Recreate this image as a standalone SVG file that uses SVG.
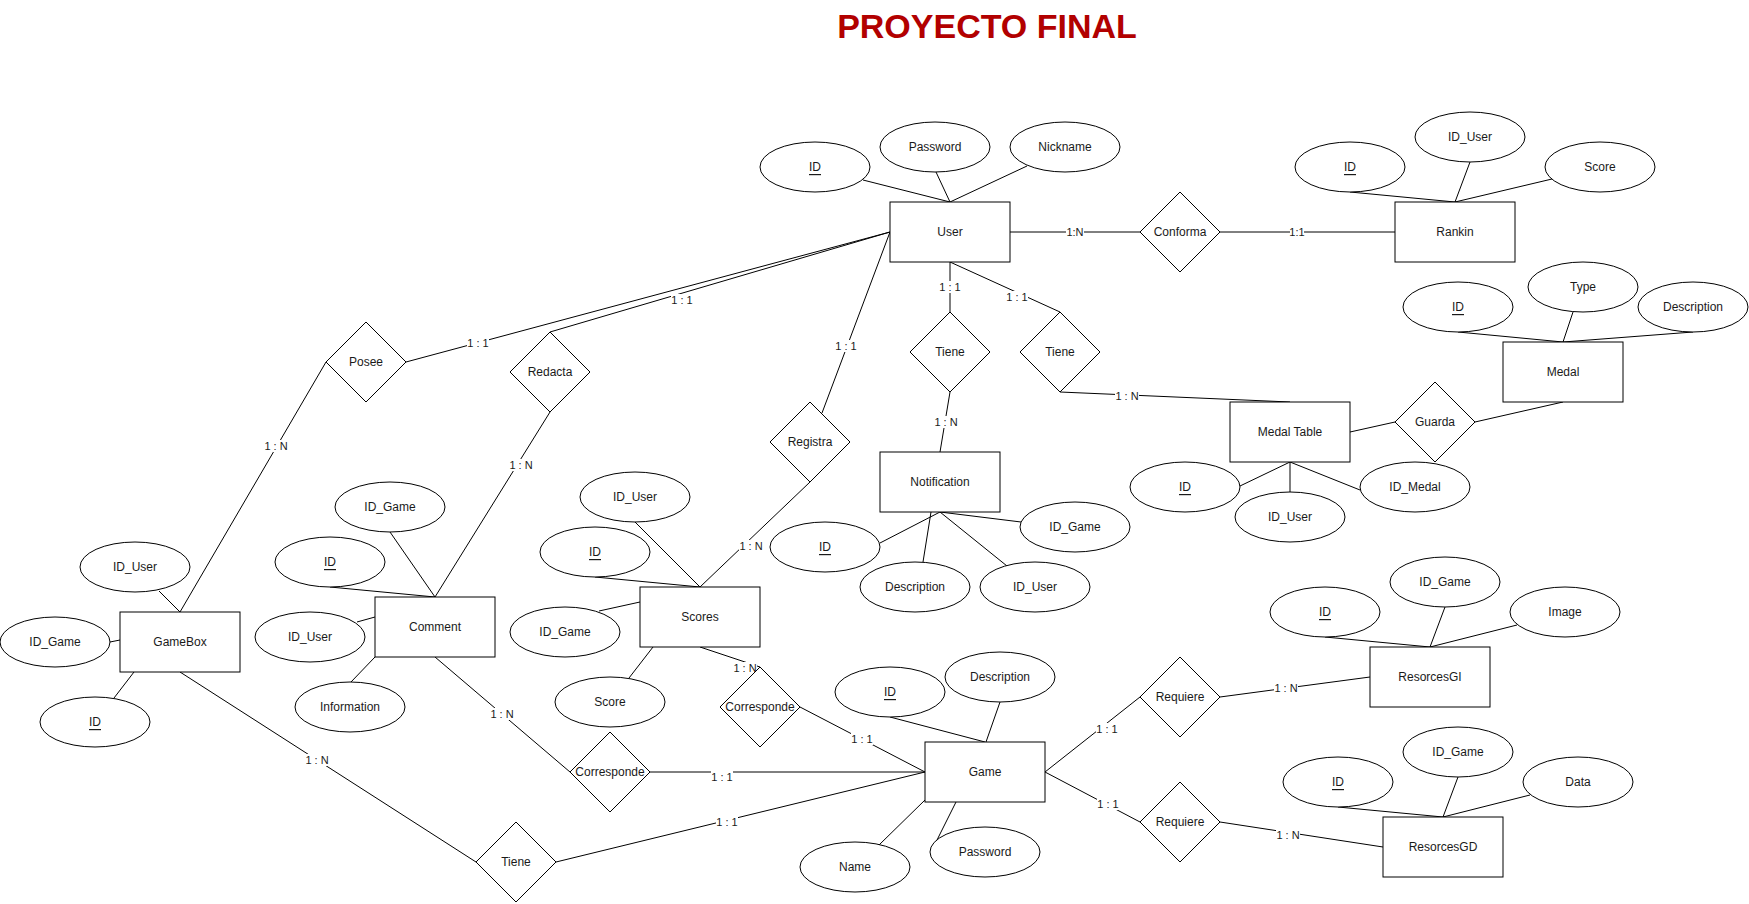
<svg xmlns="http://www.w3.org/2000/svg" width="1749" height="904" viewBox="0 0 1749 904">
<style>
  .ent rect, .attr ellipse, .rel polygon { fill: #ffffff; stroke: #000000; stroke-width: 1; }
  .lbl { font-family: "Liberation Sans", Arial, sans-serif; font-size: 12px; fill: #1a1a1a; text-anchor: middle; dominant-baseline: central; }
  .u { text-decoration: underline; }
  #connectors line { stroke: #000000; stroke-width: 1; fill: none; }
  .el rect { fill: #ffffff; stroke: none; }
  .el text { font-family: "Liberation Sans", Arial, sans-serif; font-size: 11px; fill: #1a1a1a; text-anchor: middle; dominant-baseline: central; }
  .title { font-family: "Liberation Sans", Arial, sans-serif; font-size: 34px; font-weight: bold; fill: #b20000; text-anchor: middle; }
</style>
<rect x="0" y="0" width="1749" height="904" fill="#ffffff"/>
<text id="title" class="title" x="987" y="38">PROYECTO FINAL</text>

<g id="connectors">
  <!-- attribute links -->
  <line x1="863" y1="180" x2="950" y2="202"/>
  <line x1="936" y1="172" x2="950" y2="202"/>
  <line x1="1027" y1="166" x2="950" y2="202"/>
  <line x1="1350" y1="192" x2="1455" y2="202"/>
  <line x1="1470" y1="162" x2="1455" y2="202"/>
  <line x1="1552" y1="179" x2="1455" y2="202"/>
  <line x1="1458" y1="332" x2="1563" y2="342"/>
  <line x1="1573" y1="312" x2="1563" y2="342"/>
  <line x1="1693" y1="332" x2="1563" y2="342"/>
  <line x1="1240" y1="486" x2="1290" y2="462"/>
  <line x1="1290" y1="492" x2="1290" y2="462"/>
  <line x1="1360" y1="490" x2="1290" y2="462"/>
  <line x1="880" y1="543" x2="940" y2="512"/>
  <line x1="923" y1="562" x2="931" y2="512"/>
  <line x1="1021" y1="522" x2="940" y2="512"/>
  <line x1="1007" y1="566" x2="940" y2="512"/>
  <line x1="635" y1="522" x2="700" y2="587"/>
  <line x1="595" y1="577" x2="700" y2="587"/>
  <line x1="599" y1="611" x2="640" y2="602"/>
  <line x1="629" y1="678" x2="653" y2="647"/>
  <line x1="390" y1="532" x2="435" y2="597"/>
  <line x1="330" y1="587" x2="435" y2="597"/>
  <line x1="357" y1="622" x2="375" y2="617"/>
  <line x1="351" y1="682" x2="375" y2="657"/>
  <line x1="159" y1="591" x2="180" y2="612"/>
  <line x1="110" y1="642" x2="120" y2="640"/>
  <line x1="114" y1="698" x2="134" y2="672"/>
  <line x1="890" y1="717" x2="985" y2="742"/>
  <line x1="1000" y1="702" x2="986" y2="742"/>
  <line x1="879" y1="845" x2="925" y2="800"/>
  <line x1="936" y1="842" x2="956" y2="802"/>
  <line x1="1325" y1="637" x2="1430" y2="647"/>
  <line x1="1445" y1="607" x2="1430" y2="647"/>
  <line x1="1517" y1="625" x2="1430" y2="647"/>
  <line x1="1338" y1="807" x2="1443" y2="817"/>
  <line x1="1458" y1="777" x2="1443" y2="817"/>
  <line x1="1530" y1="795" x2="1443" y2="817"/>
  <!-- relationship links -->
  <line x1="1010" y1="232" x2="1140" y2="232"/>
  <line x1="1220" y1="232" x2="1395" y2="232"/>
  <line x1="950" y1="262" x2="950" y2="312"/>
  <line x1="950" y1="262" x2="1060" y2="312"/>
  <line x1="950" y1="392" x2="940" y2="452"/>
  <line x1="1060" y1="392" x2="1290" y2="402"/>
  <line x1="822" y1="413" x2="890" y2="232"/>
  <line x1="810" y1="482" x2="700" y2="587"/>
  <line x1="406" y1="362" x2="890" y2="232"/>
  <line x1="550" y1="332" x2="890" y2="232"/>
  <line x1="326" y1="362" x2="180" y2="612"/>
  <line x1="550" y1="412" x2="435" y2="597"/>
  <line x1="435" y1="657" x2="570" y2="772"/>
  <line x1="180" y1="672" x2="476" y2="862"/>
  <line x1="700" y1="647" x2="760" y2="667"/>
  <line x1="800" y1="707" x2="925" y2="772"/>
  <line x1="650" y1="772" x2="925" y2="772"/>
  <line x1="556" y1="862" x2="925" y2="772"/>
  <line x1="1045" y1="772" x2="1140" y2="697"/>
  <line x1="1045" y1="772" x2="1140" y2="822"/>
  <line x1="1220" y1="697" x2="1370" y2="677"/>
  <line x1="1220" y1="822" x2="1383" y2="847"/>
  <line x1="1350" y1="432" x2="1395" y2="422"/>
  <line x1="1475" y1="422" x2="1563" y2="402"/>
  <!-- edge labels -->
  <g class="el">
    <rect x="1066" y="226" width="18" height="12"/><text x="1075" y="232">1:N</text>
    <rect x="1290" y="226" width="14" height="12"/><text x="1297" y="232">1:1</text>
    <rect x="939" y="281" width="22" height="12"/><text x="950" y="287">1 : 1</text>
    <rect x="1006" y="291" width="22" height="12"/><text x="1017" y="297">1 : 1</text>
    <rect x="934" y="416" width="24" height="12"/><text x="946" y="422">1 : N</text>
    <rect x="1115" y="390" width="24" height="12"/><text x="1127" y="396">1 : N</text>
    <rect x="835" y="340" width="22" height="12"/><text x="846" y="346">1 : 1</text>
    <rect x="739" y="540" width="24" height="12"/><text x="751" y="546">1 : N</text>
    <rect x="467" y="337" width="22" height="12"/><text x="478" y="343">1 : 1</text>
    <rect x="671" y="294" width="22" height="12"/><text x="682" y="300">1 : 1</text>
    <rect x="264" y="440" width="24" height="12"/><text x="276" y="446">1 : N</text>
    <rect x="509" y="459" width="24" height="12"/><text x="521" y="465">1 : N</text>
    <rect x="490" y="708" width="24" height="12"/><text x="502" y="714">1 : N</text>
    <rect x="305" y="754" width="24" height="12"/><text x="317" y="760">1 : N</text>
    <rect x="733" y="662" width="24" height="12"/><text x="745" y="668">1 : N</text>
    <rect x="851" y="733" width="22" height="12"/><text x="862" y="739">1 : 1</text>
    <rect x="711" y="771" width="22" height="12"/><text x="722" y="777">1 : 1</text>
    <rect x="716" y="816" width="22" height="12"/><text x="727" y="822">1 : 1</text>
    <rect x="1096" y="723" width="22" height="12"/><text x="1107" y="729">1 : 1</text>
    <rect x="1097" y="798" width="22" height="12"/><text x="1108" y="804">1 : 1</text>
    <rect x="1274" y="682" width="24" height="12"/><text x="1286" y="688">1 : N</text>
    <rect x="1276" y="829" width="24" height="12"/><text x="1288" y="835">1 : N</text>
  </g>
</g>

<!-- Entities -->
<g id="user" class="ent"><rect x="890" y="202" width="120" height="60"/><text class="lbl" x="950" y="232">User</text></g>
<g id="rankin" class="ent"><rect x="1395" y="202" width="120" height="60"/><text class="lbl" x="1455" y="232">Rankin</text></g>
<g id="medal" class="ent"><rect x="1503" y="342" width="120" height="60"/><text class="lbl" x="1563" y="372">Medal</text></g>
<g id="medal-table" class="ent"><rect x="1230" y="402" width="120" height="60"/><text class="lbl" x="1290" y="432">Medal Table</text></g>
<g id="notification" class="ent"><rect x="880" y="452" width="120" height="60"/><text class="lbl" x="940" y="482">Notification</text></g>
<g id="scores" class="ent"><rect x="640" y="587" width="120" height="60"/><text class="lbl" x="700" y="617">Scores</text></g>
<g id="comment" class="ent"><rect x="375" y="597" width="120" height="60"/><text class="lbl" x="435" y="627">Comment</text></g>
<g id="gamebox" class="ent"><rect x="120" y="612" width="120" height="60"/><text class="lbl" x="180" y="642">GameBox</text></g>
<g id="game" class="ent"><rect x="925" y="742" width="120" height="60"/><text class="lbl" x="985" y="772">Game</text></g>
<g id="resorcesgi" class="ent"><rect x="1370" y="647" width="120" height="60"/><text class="lbl" x="1430" y="677">ResorcesGI</text></g>
<g id="resorcesgd" class="ent"><rect x="1383" y="817" width="120" height="60"/><text class="lbl" x="1443" y="847">ResorcesGD</text></g>

<!-- Relationships -->
<g id="conforma" class="rel"><polygon points="1180,192 1220,232 1180,272 1140,232"/><text class="lbl" x="1180" y="232">Conforma</text></g>
<g id="posee" class="rel"><polygon points="366,322 406,362 366,402 326,362"/><text class="lbl" x="366" y="362">Posee</text></g>
<g id="redacta" class="rel"><polygon points="550,332 590,372 550,412 510,372"/><text class="lbl" x="550" y="372">Redacta</text></g>
<g id="registra" class="rel"><polygon points="810,402 850,442 810,482 770,442"/><text class="lbl" x="810" y="442">Registra</text></g>
<g id="tiene-notification" class="rel"><polygon points="950,312 990,352 950,392 910,352"/><text class="lbl" x="950" y="352">Tiene</text></g>
<g id="tiene-medaltable" class="rel"><polygon points="1060,312 1100,352 1060,392 1020,352"/><text class="lbl" x="1060" y="352">Tiene</text></g>
<g id="guarda" class="rel"><polygon points="1435,382 1475,422 1435,462 1395,422"/><text class="lbl" x="1435" y="422">Guarda</text></g>
<g id="corresponde-scores" class="rel"><polygon points="760,667 800,707 760,747 720,707"/><text class="lbl" x="760" y="707">Corresponde</text></g>
<g id="corresponde-comment" class="rel"><polygon points="610,732 650,772 610,812 570,772"/><text class="lbl" x="610" y="772">Corresponde</text></g>
<g id="tiene-gamebox" class="rel"><polygon points="516,822 556,862 516,902 476,862"/><text class="lbl" x="516" y="862">Tiene</text></g>
<g id="requiere-gi" class="rel"><polygon points="1180,657 1220,697 1180,737 1140,697"/><text class="lbl" x="1180" y="697">Requiere</text></g>
<g id="requiere-gd" class="rel"><polygon points="1180,782 1220,822 1180,862 1140,822"/><text class="lbl" x="1180" y="822">Requiere</text></g>

<!-- Attributes -->
<g id="user-id" class="attr"><ellipse cx="815" cy="167" rx="55" ry="25"/><text class="lbl u" x="815" y="167">ID</text></g>
<g id="user-password" class="attr"><ellipse cx="935" cy="147" rx="55" ry="25"/><text class="lbl" x="935" y="147">Password</text></g>
<g id="user-nickname" class="attr"><ellipse cx="1065" cy="147" rx="55" ry="25"/><text class="lbl" x="1065" y="147">Nickname</text></g>

<g id="rankin-id" class="attr"><ellipse cx="1350" cy="167" rx="55" ry="25"/><text class="lbl u" x="1350" y="167">ID</text></g>
<g id="rankin-iduser" class="attr"><ellipse cx="1470" cy="137" rx="55" ry="25"/><text class="lbl" x="1470" y="137">ID_User</text></g>
<g id="rankin-score" class="attr"><ellipse cx="1600" cy="167" rx="55" ry="25"/><text class="lbl" x="1600" y="167">Score</text></g>

<g id="medal-id" class="attr"><ellipse cx="1458" cy="307" rx="55" ry="25"/><text class="lbl u" x="1458" y="307">ID</text></g>
<g id="medal-type" class="attr"><ellipse cx="1583" cy="287" rx="55" ry="25"/><text class="lbl" x="1583" y="287">Type</text></g>
<g id="medal-description" class="attr"><ellipse cx="1693" cy="307" rx="55" ry="25"/><text class="lbl" x="1693" y="307">Description</text></g>

<g id="mt-id" class="attr"><ellipse cx="1185" cy="487" rx="55" ry="25"/><text class="lbl u" x="1185" y="487">ID</text></g>
<g id="mt-iduser" class="attr"><ellipse cx="1290" cy="517" rx="55" ry="25"/><text class="lbl" x="1290" y="517">ID_User</text></g>
<g id="mt-idmedal" class="attr"><ellipse cx="1415" cy="487" rx="55" ry="25"/><text class="lbl" x="1415" y="487">ID_Medal</text></g>

<g id="notif-id" class="attr"><ellipse cx="825" cy="547" rx="55" ry="25"/><text class="lbl u" x="825" y="547">ID</text></g>
<g id="notif-idgame" class="attr"><ellipse cx="1075" cy="527" rx="55" ry="25"/><text class="lbl" x="1075" y="527">ID_Game</text></g>
<g id="notif-description" class="attr"><ellipse cx="915" cy="587" rx="55" ry="25"/><text class="lbl" x="915" y="587">Description</text></g>
<g id="notif-iduser" class="attr"><ellipse cx="1035" cy="587" rx="55" ry="25"/><text class="lbl" x="1035" y="587">ID_User</text></g>

<g id="scores-iduser" class="attr"><ellipse cx="635" cy="497" rx="55" ry="25"/><text class="lbl" x="635" y="497">ID_User</text></g>
<g id="scores-id" class="attr"><ellipse cx="595" cy="552" rx="55" ry="25"/><text class="lbl u" x="595" y="552">ID</text></g>
<g id="scores-idgame" class="attr"><ellipse cx="565" cy="632" rx="55" ry="25"/><text class="lbl" x="565" y="632">ID_Game</text></g>
<g id="scores-score" class="attr"><ellipse cx="610" cy="702" rx="55" ry="25"/><text class="lbl" x="610" y="702">Score</text></g>

<g id="comment-idgame" class="attr"><ellipse cx="390" cy="507" rx="55" ry="25"/><text class="lbl" x="390" y="507">ID_Game</text></g>
<g id="comment-id" class="attr"><ellipse cx="330" cy="562" rx="55" ry="25"/><text class="lbl u" x="330" y="562">ID</text></g>
<g id="comment-iduser" class="attr"><ellipse cx="310" cy="637" rx="55" ry="25"/><text class="lbl" x="310" y="637">ID_User</text></g>
<g id="comment-information" class="attr"><ellipse cx="350" cy="707" rx="55" ry="25"/><text class="lbl" x="350" y="707">Information</text></g>

<g id="gamebox-iduser" class="attr"><ellipse cx="135" cy="567" rx="55" ry="25"/><text class="lbl" x="135" y="567">ID_User</text></g>
<g id="gamebox-idgame" class="attr"><ellipse cx="55" cy="642" rx="55" ry="25"/><text class="lbl" x="55" y="642">ID_Game</text></g>
<g id="gamebox-id" class="attr"><ellipse cx="95" cy="722" rx="55" ry="25"/><text class="lbl u" x="95" y="722">ID</text></g>

<g id="game-id" class="attr"><ellipse cx="890" cy="692" rx="55" ry="25"/><text class="lbl u" x="890" y="692">ID</text></g>
<g id="game-description" class="attr"><ellipse cx="1000" cy="677" rx="55" ry="25"/><text class="lbl" x="1000" y="677">Description</text></g>
<g id="game-name" class="attr"><ellipse cx="855" cy="867" rx="55" ry="25"/><text class="lbl" x="855" y="867">Name</text></g>
<g id="game-password" class="attr"><ellipse cx="985" cy="852" rx="55" ry="25"/><text class="lbl" x="985" y="852">Password</text></g>

<g id="gi-id" class="attr"><ellipse cx="1325" cy="612" rx="55" ry="25"/><text class="lbl u" x="1325" y="612">ID</text></g>
<g id="gi-idgame" class="attr"><ellipse cx="1445" cy="582" rx="55" ry="25"/><text class="lbl" x="1445" y="582">ID_Game</text></g>
<g id="gi-image" class="attr"><ellipse cx="1565" cy="612" rx="55" ry="25"/><text class="lbl" x="1565" y="612">Image</text></g>

<g id="gd-id" class="attr"><ellipse cx="1338" cy="782" rx="55" ry="25"/><text class="lbl u" x="1338" y="782">ID</text></g>
<g id="gd-idgame" class="attr"><ellipse cx="1458" cy="752" rx="55" ry="25"/><text class="lbl" x="1458" y="752">ID_Game</text></g>
<g id="gd-data" class="attr"><ellipse cx="1578" cy="782" rx="55" ry="25"/><text class="lbl" x="1578" y="782">Data</text></g>
</svg>
